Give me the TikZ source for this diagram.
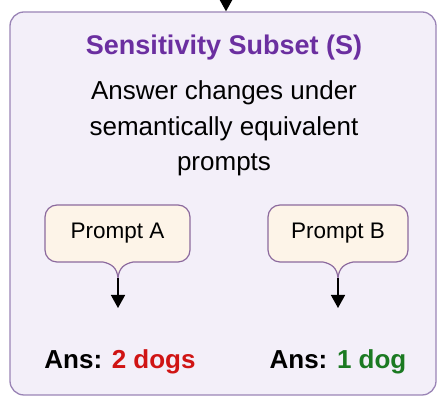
\documentclass[tikz,border=0pt]{standalone}
\usepackage{fontspec}
\setmainfont{Liberation Sans}
\usetikzlibrary{arrows.meta}
\definecolor{framefill}{HTML}{F3EFF9}
\definecolor{framedraw}{HTML}{9A84B6}
\definecolor{titlecol}{HTML}{6B2FA0}
\definecolor{callfill}{HTML}{FDF4E8}
\definecolor{calldraw}{HTML}{8C6A9E}
\definecolor{anscol}{HTML}{D01414}
\definecolor{okcol}{HTML}{1B7A22}
\tikzset{
  frame/.style={draw=framedraw, fill=framefill, line width=1.3pt, rounded corners=14pt},
  callout/.style={draw=calldraw, fill=callfill, line width=1.2pt},
  arr/.style={line width=1.5pt, -{Triangle[width=14pt,length=13pt]}},
  titletext/.style={font=\fontsize{27}{30}\selectfont\bfseries, text=titlecol},
  bodytext/.style={font=\fontsize{26}{30}\selectfont},
  prompttext/.style={font=\fontsize{22.5}{26}\selectfont},
  anstext/.style={font=\fontsize{26}{30}\selectfont\bfseries},
}
% speech-bubble outline: box from (#1,#2) to (#3,#4), tail pointing down at x=#5
\newcommand{\bubblepath}[5]{%
  (#1+12,#4) -- (#3-12,#4) arc[start angle=90,end angle=0,radius=12]
  -- (#3,#2+12) arc[start angle=0,end angle=-90,radius=12]
  -- (#5+15,#2) .. controls (#5+6,#2-2) and (#5+1,#2-6) .. (#5,#2-16)
  .. controls (#5-1,#2-6) and (#5-6,#2-2) .. (#5-15,#2)
  -- (#1+12,#2) arc[start angle=270,end angle=180,radius=12]
  -- (#1,#4-12) arc[start angle=180,end angle=90,radius=12] -- cycle}
\begin{document}
\begin{tikzpicture}[x=1pt,y=1pt]
\useasboundingbox (0,0) rectangle (439,398);
% outer panel
\node[frame, minimum width=426pt, minimum height=383pt, inner sep=0pt] (panel) at (223,194.5) {};
\coordinate (topin) at (226,399);
\draw[arr] (topin) -- (topin |- panel.north);
% heading and description
\node[titletext] (title) at (224,350) {Sensitivity Subset (S)};
\node[bodytext] (l1) at (224,305) {Answer changes under};
\node[bodytext] (l2) at (224,269) {semantically equivalent};
\node[bodytext] (l3) at (224,233) {prompts};
% prompt A
\draw[callout] \bubblepath{45}{136}{190}{193}{118};
\node[prompttext] (pa) at (117.5,165) {Prompt A};
\coordinate (pat) at (118,120);
\coordinate (pae) at (118,90);
\draw[arr] (pat) -- (pae);
\node[anstext] (aa) at (120,36) {Ans: \textcolor{anscol}{2 dogs}};
% prompt B
\draw[callout] \bubblepath{268}{136}{408}{193}{338};
\node[prompttext] (pb) at (338,165) {Prompt B};
\coordinate (pbt) at (338,120);
\coordinate (pbe) at (338,90);
\draw[arr] (pbt) -- (pbe);
\node[anstext] (ab) at (338,36) {Ans: \textcolor{okcol}{1 dog}};
\end{tikzpicture}
\end{document}
